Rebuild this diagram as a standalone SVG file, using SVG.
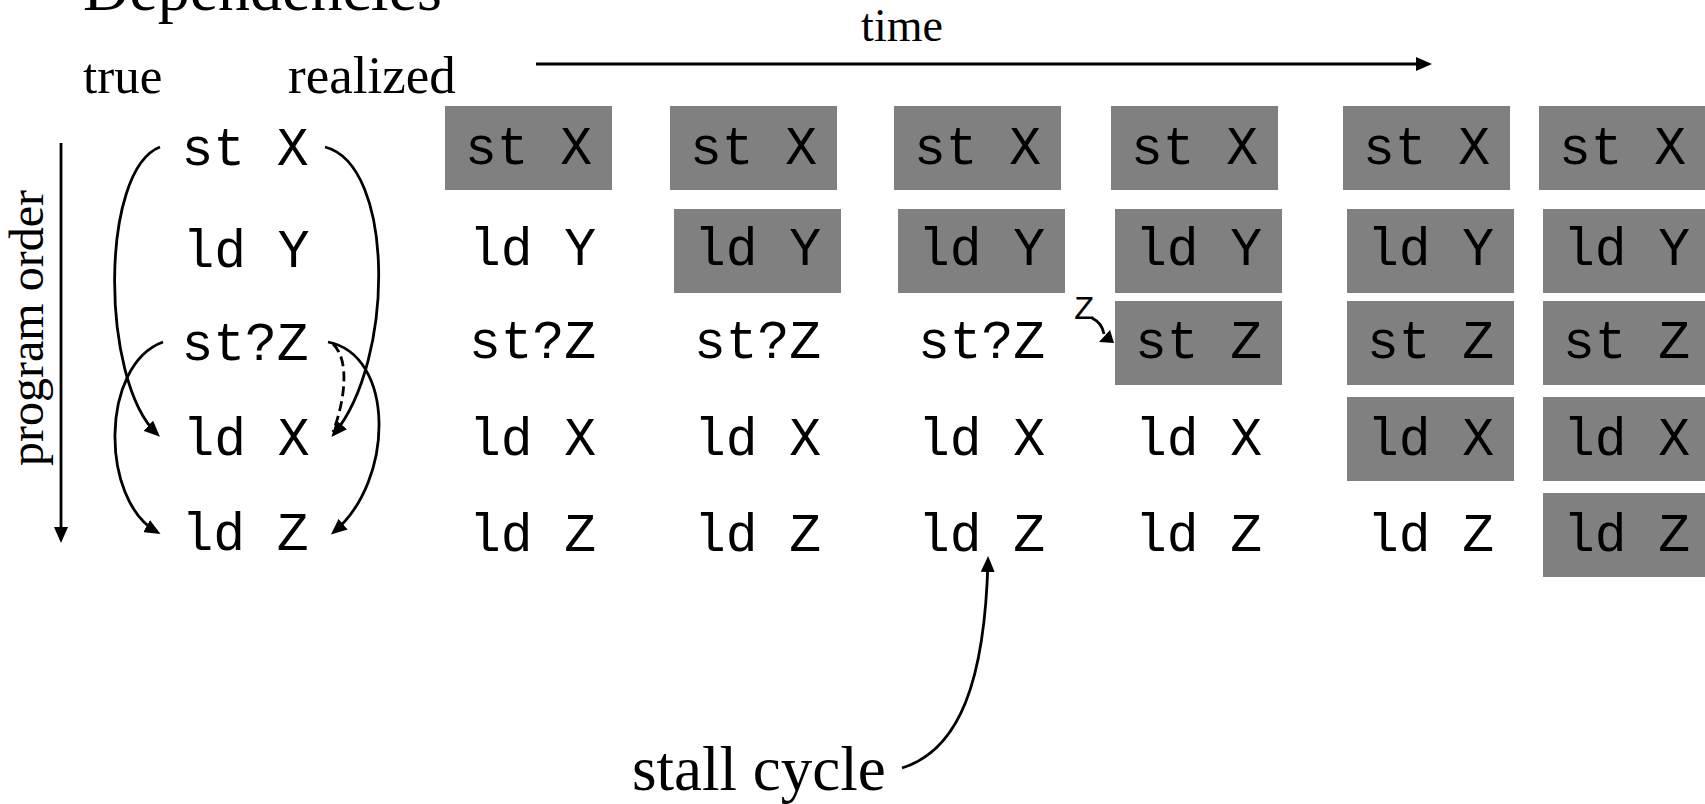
<svg xmlns="http://www.w3.org/2000/svg" width="1705" height="804" viewBox="0 0 1705 804">
  <style>
    .serif { font-family: "Liberation Serif", "Times New Roman", serif; fill: #000; }
    .mono { font-family: "Courier New", "Nimbus Mono PS", "FreeMono", "Liberation Mono", monospace; font-size: 53px; fill: #000; text-anchor: middle; }
    .cell { fill: #808080; }
    .wire { fill: none; stroke: #000; stroke-width: 2.8; }
    .dash { stroke-dasharray: 10 5; }
  </style>
  <defs>
    <marker id="ah" viewBox="0 0 16 14" refX="12" refY="7" markerWidth="16" markerHeight="14" orient="auto" markerUnits="userSpaceOnUse">
      <path d="M0,0 L16,7 L0,14 z" fill="#000"/>
    </marker>
  </defs>

  <rect width="1705" height="804" fill="#fff"/>

  <!-- headings -->
  <text class="serif" x="83" y="10" font-size="64">Dependencies</text>
  <text class="serif" x="83" y="93" font-size="51">true</text>
  <text class="serif" x="288" y="93" font-size="53">realized</text>
  <text class="serif" x="902" y="41" font-size="46" text-anchor="middle">time</text>
  <text class="serif" transform="translate(43,328) rotate(-90)" font-size="48" text-anchor="middle">program order</text>
  <text class="serif" x="632" y="790" font-size="63">stall cycle</text>

  <!-- program order (left column) -->
  <g id="prog-stX"><text class="mono" x="245" y="165">st X</text></g>
  <g id="prog-ldY"><text class="mono" x="246" y="267">ld Y</text></g>
  <g id="prog-stqZ"><text class="mono" x="245" y="360">st?Z</text></g>
  <g id="prog-ldX"><text class="mono" x="246" y="455">ld X</text></g>
  <g id="prog-ldZ"><text class="mono" x="245" y="550">ld Z</text></g>

  <!-- cycle 1 -->
  <g id="c1-stX"><rect class="cell" x="445" y="106" width="167" height="84"/><text class="mono" x="528.5" y="164">st X</text></g>
  <g id="c1-ldY"><text class="mono" x="532.5" y="265">ld Y</text></g>
  <g id="c1-stqZ"><text class="mono" x="532.5" y="358">st?Z</text></g>
  <g id="c1-ldX"><text class="mono" x="532.5" y="455">ld X</text></g>
  <g id="c1-ldZ"><text class="mono" x="532.5" y="551">ld Z</text></g>

  <!-- cycle 2 -->
  <g id="c2-stX"><rect class="cell" x="670" y="106" width="167" height="84"/><text class="mono" x="753.5" y="164">st X</text></g>
  <g id="c2-ldY"><rect class="cell" x="674" y="209" width="167" height="84"/><text class="mono" x="757.5" y="265">ld Y</text></g>
  <g id="c2-stqZ"><text class="mono" x="757.5" y="358">st?Z</text></g>
  <g id="c2-ldX"><text class="mono" x="757.5" y="455">ld X</text></g>
  <g id="c2-ldZ"><text class="mono" x="757.5" y="551">ld Z</text></g>

  <!-- cycle 3 -->
  <g id="c3-stX"><rect class="cell" x="894" y="106" width="167" height="84"/><text class="mono" x="977.5" y="164">st X</text></g>
  <g id="c3-ldY"><rect class="cell" x="898" y="209" width="167" height="84"/><text class="mono" x="981.5" y="265">ld Y</text></g>
  <g id="c3-stqZ"><text class="mono" x="981.5" y="358">st?Z</text></g>
  <g id="c3-ldX"><text class="mono" x="981.5" y="455">ld X</text></g>
  <g id="c3-ldZ"><text class="mono" x="981.5" y="551">ld Z</text></g>

  <!-- cycle 4 -->
  <g id="c4-stX"><rect class="cell" x="1111" y="106" width="167" height="84"/><text class="mono" x="1194.5" y="164">st X</text></g>
  <g id="c4-ldY"><rect class="cell" x="1115" y="209" width="167" height="84"/><text class="mono" x="1198.5" y="265">ld Y</text></g>
  <g id="c4-stZ"><rect class="cell" x="1115" y="301" width="167" height="84"/><text class="mono" x="1198.5" y="358">st Z</text></g>
  <g id="c4-ldX"><text class="mono" x="1198.5" y="455">ld X</text></g>
  <g id="c4-ldZ"><text class="mono" x="1198.5" y="551">ld Z</text></g>

  <!-- cycle 5 -->
  <g id="c5-stX"><rect class="cell" x="1343" y="106" width="167" height="84"/><text class="mono" x="1426.5" y="164">st X</text></g>
  <g id="c5-ldY"><rect class="cell" x="1347" y="209" width="167" height="84"/><text class="mono" x="1430.5" y="265">ld Y</text></g>
  <g id="c5-stZ"><rect class="cell" x="1347" y="301" width="167" height="84"/><text class="mono" x="1430.5" y="358">st Z</text></g>
  <g id="c5-ldX"><rect class="cell" x="1347" y="397" width="167" height="84"/><text class="mono" x="1430.5" y="455">ld X</text></g>
  <g id="c5-ldZ"><text class="mono" x="1430.5" y="551">ld Z</text></g>

  <!-- cycle 6 -->
  <g id="c6-stX"><rect class="cell" x="1539" y="106" width="167" height="84"/><text class="mono" x="1622.5" y="164">st X</text></g>
  <g id="c6-ldY"><rect class="cell" x="1543" y="209" width="167" height="84"/><text class="mono" x="1626.5" y="265">ld Y</text></g>
  <g id="c6-stZ"><rect class="cell" x="1543" y="301" width="167" height="84"/><text class="mono" x="1626.5" y="358">st Z</text></g>
  <g id="c6-ldX"><rect class="cell" x="1543" y="397" width="167" height="84"/><text class="mono" x="1626.5" y="455">ld X</text></g>
  <g id="c6-ldZ"><rect class="cell" x="1543" y="493" width="167" height="84"/><text class="mono" x="1626.5" y="551">ld Z</text></g>

  <!-- address resolved label -->
  <g id="z-label"><text x="1074" y="319" font-family="Courier New, Nimbus Mono PS, FreeMono, Liberation Mono, monospace" font-size="34">Z</text></g>

  <!-- connectors -->
  <g id="connectors">
    <line class="wire" x1="61" y1="143" x2="61" y2="539" marker-end="url(#ah)"/>
    <line class="wire" x1="536" y1="64" x2="1428" y2="64" marker-end="url(#ah)"/>
    <!-- true dependences -->
    <path class="wire" d="M160,147 C100,170 100,380 157,434" marker-end="url(#ah)"/>
    <path class="wire" d="M163,342 C100,365 100,500 157,532" marker-end="url(#ah)"/>
    <!-- realized dependences -->
    <path class="wire" d="M325,147 C395,165 395,360 334,434" marker-end="url(#ah)"/>
    <path class="wire" d="M328,342 C395,355 395,480 334,532" marker-end="url(#ah)"/>
    <path class="wire dash" d="M333,344 C350,360 345,400 333,432"/>
    <!-- Z resolved into st Z -->
    <path class="wire" d="M1092,318 C1100,322 1103,328 1104,334"/>
    <polygon points="1114,343 1099,342 1110,330" fill="#000"/>
    <!-- stall pointer -->
    <path class="wire" d="M902,768 C960,750 985,680 988,560" marker-end="url(#ah)"/>
  </g>
</svg>
